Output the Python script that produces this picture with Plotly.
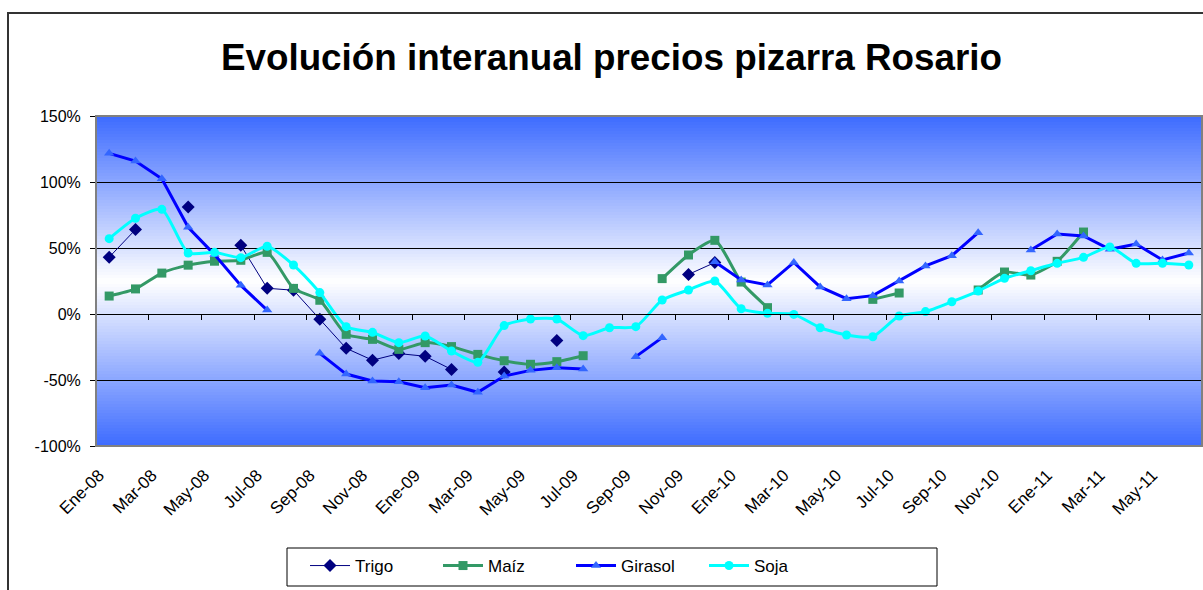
import plotly.graph_objects as go

months = ["Ene-08","Feb-08","Mar-08","Abr-08","May-08","Jun-08","Jul-08","Ago-08","Sep-08","Oct-08","Nov-08","Dic-08",
          "Ene-09","Feb-09","Mar-09","Abr-09","May-09","Jun-09","Jul-09","Ago-09","Sep-09","Oct-09","Nov-09","Dic-09",
          "Ene-10","Feb-10","Mar-10","Abr-10","May-10","Jun-10","Jul-10","Ago-10","Sep-10","Oct-10","Nov-10","Dic-10",
          "Ene-11","Feb-11","Mar-11","Abr-11","May-11","Jun-11"]
N = None
trigo = [43, 64, N, 81, N, 52, 19.5, 18, -4, -26, -35, -30,
         -32, -42, N, -44, N, -20, N, N, N, N, 30, 39,
         N, N, N, N, N, N, N, N, N, N, N, N,
         N, N, N, N, N, N]
maiz = [13.6, 19, 31, 37, 40, 40.7, 46.7, 19.4, 10.4, -15.4, -19.2, -26.8,
        -21.7, -24.7, -30.6, -35.4, -38.1, -36.1, -31.6, N, N, 26.8, 44.7, 55.8,
        24.2, 4.8, N, N, N, 11.1, 15.9, N, N, 18.2, 31.8, 29.5,
        39.9, 62.1, N, N, N, N]
girasol = [121.7, 115.9, 102.5, 65.7, 45, 21.7, 3, N, -29.8, -45.5, -50.8, -51.3,
           -55.8, -53.8, -59.3, -47, -42.7, -40.7, -41.7, N, -32.3, -17.9, N, 39.6,
           25.8, 22, 39.1, 20.5, 11.6, 13.9, 25, 36.4, 44.2, 61.6, N, 48.5,
           60.6, 59.1, 49, 53, 40.9, 46.2]
soja = [57.1, 72.5, 79.3, 46.2, 46.7, 42.7, 51.3, 37.1, 16.2, -9.6, -13.9, -21.7,
        -16.7, -28, -36.6, -8.8, -3.8, -3.8, -16.4, -10.4, -9.6, 10.6, 18.2, 25,
        4, 0.5, -0.3, -10.4, -15.9, -17.2, -1.5, 1.8, 9.3, 17.4, 27, 32.8,
        38.4, 42.9, 50.8, 38.4, 38.4, 37.1]

y_ticks = [-100, -50, 0, 50, 100, 150]
y_ticktext = ["-100%", "-50%", "0%", "50%", "100%", "150%"]
title = "Evolución interanual precios pizarra Rosario"

idx = list(range(len(months)))
label_idx = idx[::2]
label_txt = [months[i] for i in label_idx]
boundary_ticks = [i + 1.5 for i in idx[::2]][:-1]

W, H = 1203, 590
ML, MR, MT, MB = 96, 1, 116, 144
PW, PH = W - ML - MR, H - MT - MB


def px2x(px):
    return (px - ML) / PW


def px2y(py):
    return (H - MB - py) / PH


fig = go.Figure()

fig.add_trace(go.Scatter(x=idx, y=trigo, name="Trigo", mode="lines+markers",
                         line=dict(color="#000080", width=1),
                         marker=dict(symbol="diamond", size=10, color="#000080"),
                         connectgaps=False))
fig.add_trace(go.Scatter(x=idx, y=maiz, name="Maíz", mode="lines+markers",
                         line=dict(color="#339966", width=3, shape="spline", smoothing=0.6),
                         marker=dict(symbol="square", size=9, color="#339966"),
                         connectgaps=False))
fig.add_trace(go.Scatter(x=idx, y=girasol, name="Girasol", mode="lines+markers",
                         line=dict(color="#0000FF", width=3),
                         marker=dict(symbol="triangle-up", size=9, color="#3366FF"),
                         connectgaps=False))
fig.add_trace(go.Scatter(x=idx, y=soja, name="Soja", mode="lines+markers",
                         line=dict(color="#00FFFF", width=3, shape="spline", smoothing=0.6),
                         marker=dict(symbol="circle", size=9, color="#00FFFF"),
                         connectgaps=False))
# invisible trace to carry the category axis drawn at 0%
fig.add_trace(go.Scatter(x=[0], y=[0], xaxis="x2", yaxis="y", mode="markers",
                         marker=dict(opacity=0), showlegend=False, hoverinfo="skip"))

# gradient background
shapes = []
top = (61, 107, 255)
nb = 110
for k in range(nb):
    f0 = k / nb
    f1 = (k + 1) / nb
    fc = (f0 + f1) / 2
    t = abs(fc - 0.5) / 0.5
    c = tuple(round(255 + (top[j] - 255) * t) for j in range(3))
    shapes.append(dict(type="rect", xref="x domain", yref="y domain", x0=0, x1=1,
                       y0=f0, y1=f1 + 0.002, fillcolor="rgb(%d,%d,%d)" % c,
                       line=dict(width=0), layer="below"))
# plot area border
shapes.append(dict(type="rect", xref="x domain", yref="y domain", x0=0, x1=1, y0=0, y1=1,
                   line=dict(color="#808080", width=2), layer="above"))
# outer chart border
shapes.append(dict(type="rect", xref="paper", yref="paper",
                   x0=px2x(8), x1=px2x(1215), y0=px2y(600), y1=px2y(13),
                   line=dict(color="#333333", width=2), layer="below"))
# legend box
shapes.append(dict(type="rect", xref="paper", yref="paper",
                   x0=px2x(287), x1=px2x(937), y0=px2y(586), y1=px2y(548),
                   line=dict(color="black", width=1), layer="below"))

fig.update_layout(
    width=W, height=H,
    margin=dict(l=ML, r=MR, t=MT, b=MB),
    paper_bgcolor="white", plot_bgcolor="white",
    font=dict(family="Liberation Sans, Arial, sans-serif", color="black"),
    title=dict(text="<b>" + title + "</b>", x=611.5 / W, xref="container", xanchor="center",
               y=1 - 57 / H, yanchor="middle", yref="container",
               font=dict(size=36.8, color="black")),
    shapes=shapes,
    showlegend=True,
    legend=dict(orientation="h", x=px2x(305), xanchor="left", y=px2y(548), yanchor="top",
                borderwidth=0, bgcolor="rgba(0,0,0,0)",
                font=dict(size=17), entrywidth=78, itemwidth=40),
    xaxis=dict(range=[-0.5, len(months) - 0.5], tickmode="array", tickvals=label_idx,
               ticktext=label_txt, tickangle=-45, showgrid=False, zeroline=False,
               showline=False, ticks="", tickfont=dict(size=17),
               ticklabelshift=-10, ticklabelstandoff=15),
    xaxis2=dict(range=[-0.5, len(months) - 0.5], overlaying="x", anchor="free",
                position=100 / 250, side="bottom", tickmode="array", tickvals=boundary_ticks,
                ticks="outside", ticklen=5, tickcolor="black", showticklabels=False,
                showgrid=False, zeroline=False, showline=True, linecolor="black", linewidth=1),
    yaxis=dict(range=[-100, 150], tickmode="array", tickvals=y_ticks, ticktext=y_ticktext,
               showgrid=True, gridcolor="black", gridwidth=1, zeroline=False,
               showline=True, linecolor="black", linewidth=1, ticks="outside", ticklen=5,
               tickcolor="black", tickfont=dict(size=16), ticklabelstandoff=6),
)

fig.write_html("out.html", config={"displayModeBar": False},
               post_script="document.body.style.margin='0px';")
